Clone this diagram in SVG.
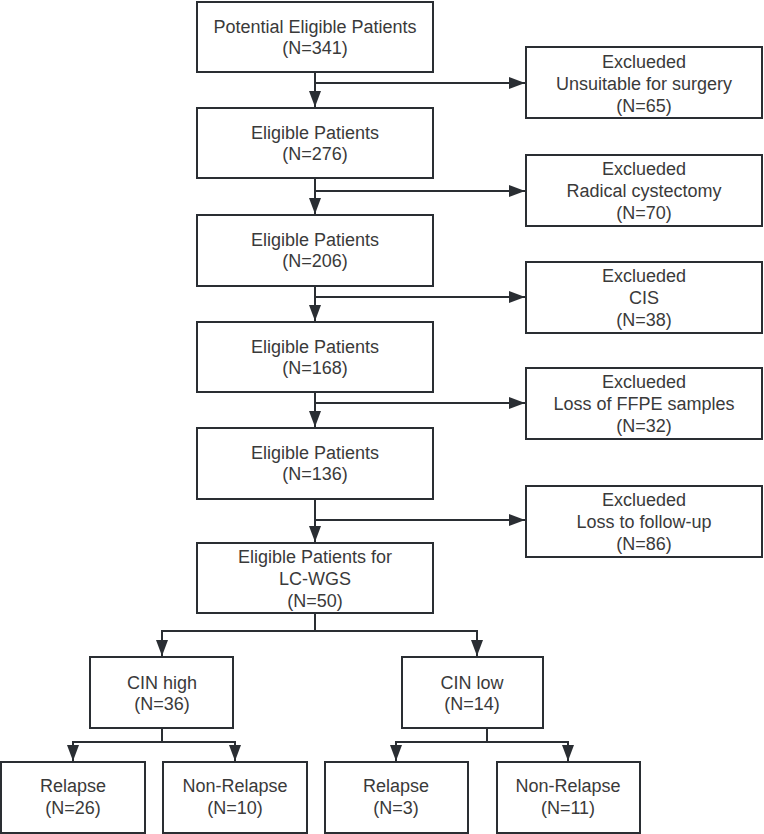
<svg xmlns="http://www.w3.org/2000/svg" width="764" height="834" viewBox="0 0 764 834">
<defs>
<style>
.box{fill:#fff;stroke:#2a2e33;stroke-width:2}
.t{font-family:"Liberation Sans",Arial,sans-serif;font-size:18px;fill:#3a3a3a;text-anchor:middle}
.c{fill:none;stroke:#2a2e33;stroke-width:2}
</style>
<marker id="ah" markerUnits="userSpaceOnUse" markerWidth="16" markerHeight="12" refX="16" refY="6" orient="auto">
<path d="M0,0 L16,6 L0,12 z" fill="#2a2e33"/>
</marker>
</defs>
<rect width="764" height="834" fill="#fff"/>
<g id="connectors">
<path class="c" d="M315,72 V107" marker-end="url(#ah)"/>
<path class="c" d="M315,83 H525" marker-end="url(#ah)"/>
<path class="c" d="M315,178 V214" marker-end="url(#ah)"/>
<path class="c" d="M315,191 H525" marker-end="url(#ah)"/>
<path class="c" d="M315,286 V321" marker-end="url(#ah)"/>
<path class="c" d="M315,297 H525" marker-end="url(#ah)"/>
<path class="c" d="M315,392 V427" marker-end="url(#ah)"/>
<path class="c" d="M315,403 H525" marker-end="url(#ah)"/>
<path class="c" d="M315,500 V542" marker-end="url(#ah)"/>
<path class="c" d="M315,520 H525" marker-end="url(#ah)"/>
<path class="c" d="M315,613 V631 H162 V656" marker-end="url(#ah)"/>
<path class="c" d="M315,631 H477 V656" marker-end="url(#ah)"/>
<path class="c" d="M162,728 V742 H73 V761" marker-end="url(#ah)"/>
<path class="c" d="M162,742 H235 V761" marker-end="url(#ah)"/>
<path class="c" d="M487,728 V742 H396 V761" marker-end="url(#ah)"/>
<path class="c" d="M487,742 H568 V761" marker-end="url(#ah)"/>
</g>
<g id="n1"><rect class="box" x="197" y="2" width="236" height="70"/><text class="t" x="315" y="33">Potential Eligible Patients</text><text class="t" x="315" y="54">(N=341)</text></g>
<g id="n2"><rect class="box" x="197" y="108" width="236" height="70"/><text class="t" x="315" y="139">Eligible Patients</text><text class="t" x="315" y="160">(N=276)</text></g>
<g id="n3"><rect class="box" x="197" y="215" width="236" height="71"/><text class="t" x="315" y="246">Eligible Patients</text><text class="t" x="315" y="267">(N=206)</text></g>
<g id="n4"><rect class="box" x="197" y="322" width="236" height="70"/><text class="t" x="315" y="353">Eligible Patients</text><text class="t" x="315" y="374">(N=168)</text></g>
<g id="n5"><rect class="box" x="197" y="428" width="236" height="71"/><text class="t" x="315" y="459">Eligible Patients</text><text class="t" x="315" y="480">(N=136)</text></g>
<g id="n6"><rect class="box" x="197" y="543" width="236" height="70"/><text class="t" x="315" y="563">Eligible Patients for</text><text class="t" x="315" y="585">LC-WGS</text><text class="t" x="315" y="607">(N=50)</text></g>
<g id="e1"><rect class="box" x="526" y="47" width="236" height="71"/><text class="t" x="644" y="68">Exclueded</text><text class="t" x="644" y="90">Unsuitable for surgery</text><text class="t" x="644" y="112">(N=65)</text></g>
<g id="e2"><rect class="box" x="526" y="155" width="236" height="71"/><text class="t" x="644" y="175">Exclueded</text><text class="t" x="644" y="197">Radical cystectomy</text><text class="t" x="644" y="219">(N=70)</text></g>
<g id="e3"><rect class="box" x="526" y="262" width="236" height="71"/><text class="t" x="644" y="282">Exclueded</text><text class="t" x="644" y="304">CIS</text><text class="t" x="644" y="326">(N=38)</text></g>
<g id="e4"><rect class="box" x="526" y="368" width="236" height="71"/><text class="t" x="644" y="388">Exclueded</text><text class="t" x="644" y="410">Loss of FFPE samples</text><text class="t" x="644" y="432">(N=32)</text></g>
<g id="e5"><rect class="box" x="526" y="486" width="236" height="71"/><text class="t" x="644" y="506">Exclueded</text><text class="t" x="644" y="528">Loss to follow-up</text><text class="t" x="644" y="550">(N=86)</text></g>
<g id="cinh"><rect class="box" x="90" y="657" width="143" height="71"/><text class="t" x="162" y="689">CIN high</text><text class="t" x="162" y="710">(N=36)</text></g>
<g id="cinl"><rect class="box" x="402" y="657" width="141" height="71"/><text class="t" x="472" y="689">CIN low</text><text class="t" x="472" y="710">(N=14)</text></g>
<g id="r1"><rect class="box" x="1" y="762" width="144" height="71"/><text class="t" x="73" y="792">Relapse</text><text class="t" x="73" y="814">(N=26)</text></g>
<g id="nr1"><rect class="box" x="163" y="762" width="144" height="71"/><text class="t" x="235" y="792">Non-Relapse</text><text class="t" x="235" y="814">(N=10)</text></g>
<g id="r2"><rect class="box" x="325" y="762" width="143" height="71"/><text class="t" x="396" y="792">Relapse</text><text class="t" x="396" y="814">(N=3)</text></g>
<g id="nr2"><rect class="box" x="497" y="762" width="143" height="71"/><text class="t" x="568" y="792">Non-Relapse</text><text class="t" x="568" y="814">(N=11)</text></g>
</svg>
